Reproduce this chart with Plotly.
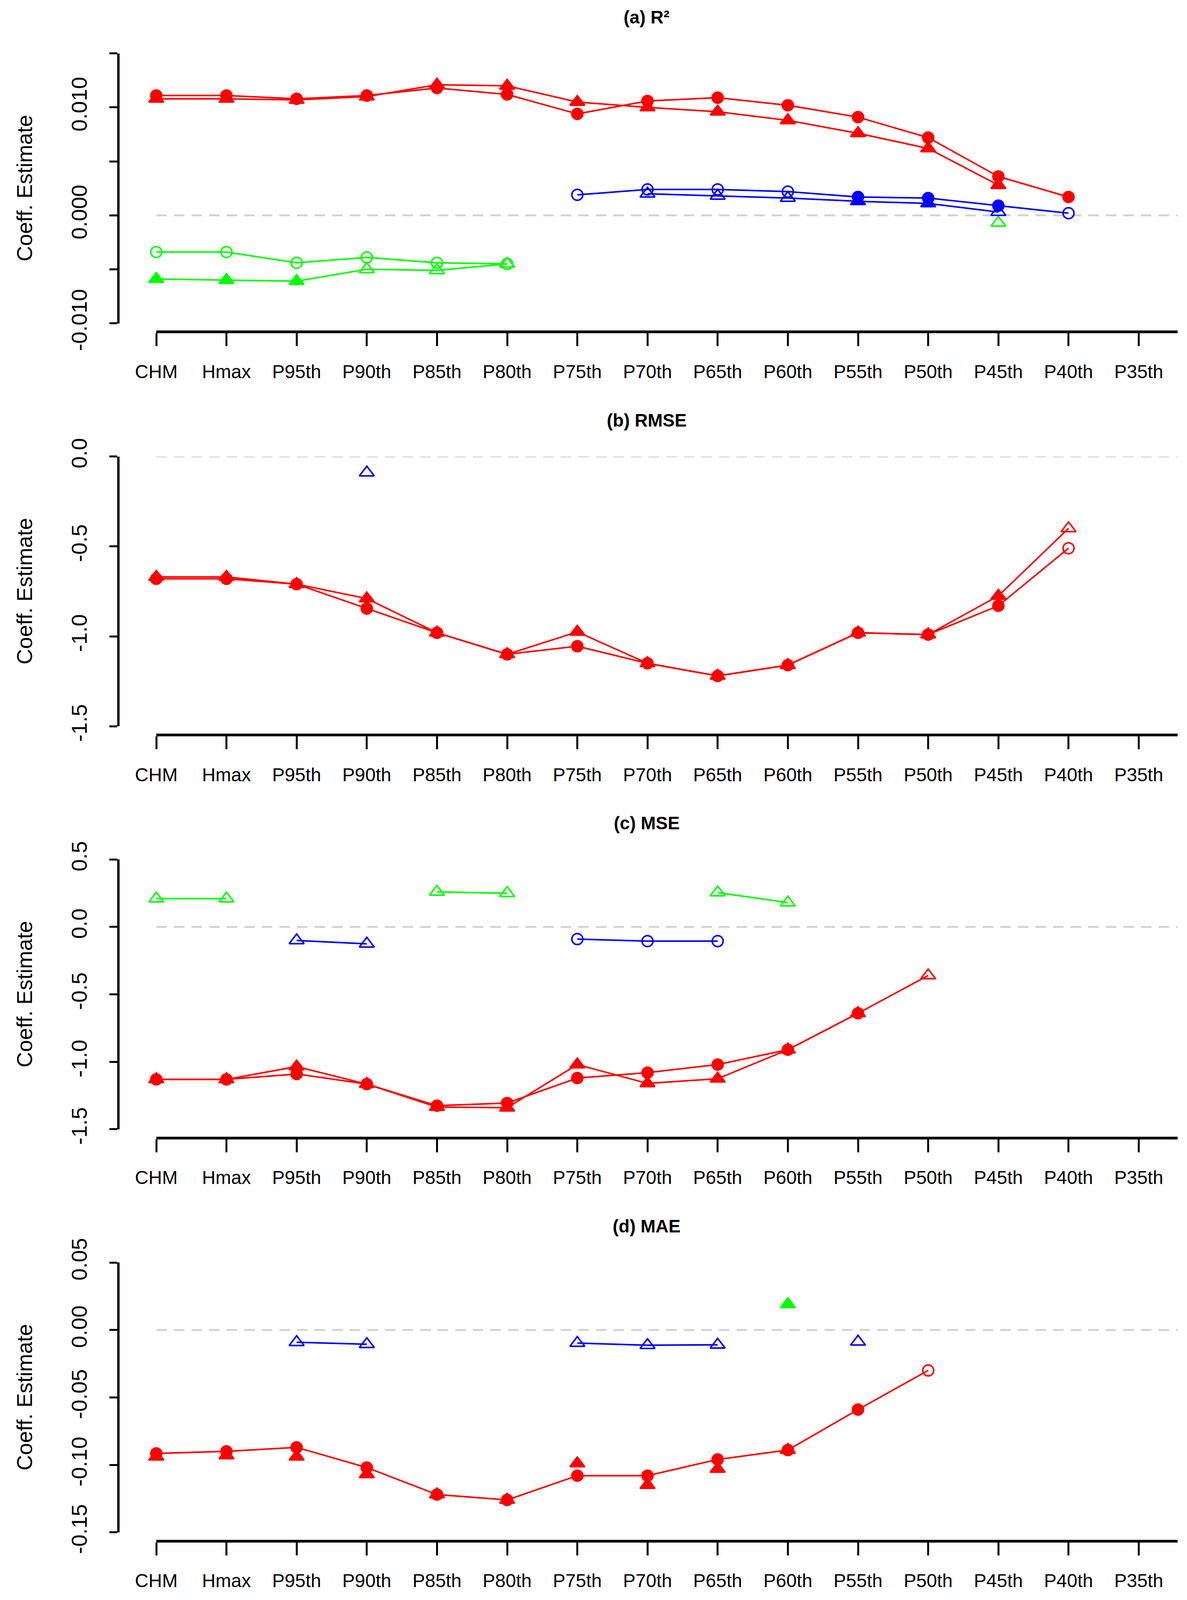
import plotly.graph_objects as go

W = 3038
REF_H = 4317          # height of the reference frame the layout was measured in
VIEW_H = 4090         # visible height of the photographed page
FY = VIEW_H / REF_H
N = None

categories = ["CHM", "Hmax", "P95th", "P90th", "P85th", "P80th", "P75th", "P70th",
              "P65th", "P60th", "P55th", "P50th", "P45th", "P40th", "P35th"]

# ---------------- (a) R² ----------------
r2_red_circ = [0.0111, 0.0111, 0.0108, 0.0111, 0.0118, 0.0112, 0.0094, 0.0106, 0.0109,
               0.0102, 0.0091, 0.0072, 0.0036, 0.0017, N]
r2_red_circ_fill = [1, 1, 1, 1, 1, 1, 1, 1, 1, 1, 1, 1, 1, 1, 1]
r2_red_tri = [0.0108, 0.0108, 0.0107, 0.0110, 0.0121, 0.0120, 0.0105, 0.0100, 0.0096,
              0.0088, 0.0076, 0.0062, 0.0028, N, N]
r2_red_tri_fill = [1, 1, 1, 1, 1, 1, 1, 1, 1, 1, 1, 1, 1, 1, 1]
r2_blue_circ = [N, N, N, N, N, N, 0.0019, 0.0024, 0.0024, 0.0022, 0.0017, 0.0016,
                0.0009, 0.0002, N]
r2_blue_circ_fill = [0, 0, 0, 0, 0, 0, 0, 0, 0, 0, 1, 1, 1, 0, 0]
r2_blue_tri = [N, N, N, N, N, N, N, 0.0020, 0.0018, 0.0016, 0.0013, 0.0011, 0.0003, N, N]
r2_blue_tri_fill = [0, 0, 0, 0, 0, 0, 0, 0, 0, 0, 1, 1, 0, 0, 0]
r2_green_circ = [-0.0034, -0.0034, -0.0044, -0.0039, -0.0044, -0.0045, N, N, N, N, N, N, N, N, N]
r2_green_circ_fill = [0] * 15
r2_green_tri = [-0.0059, -0.0060, -0.0061, -0.0050, -0.0051, -0.0045, N, N, N, N, N, N,
                -0.0007, N, N]
r2_green_tri_fill = [1, 1, 1, 0, 0, 0, 0, 0, 0, 0, 0, 0, 0, 0, 0]
r2_ticks = [0.015, 0.010, 0.005, 0.000, -0.005, -0.010]
r2_ticktext = ["", "0.010", "", "0.000", "", "-0.010"]

# ---------------- (b) RMSE ----------------
rmse_red_circ = [-0.68, -0.68, -0.71, -0.845, -0.98, -1.10, -1.055, -1.15, -1.22, -1.16,
                 -0.98, -0.99, -0.83, -0.51, N]
rmse_red_circ_fill = [1, 1, 1, 1, 1, 1, 1, 1, 1, 1, 1, 1, 1, 0, 0]
rmse_red_tri = [-0.67, -0.67, -0.71, -0.79, -0.98, -1.10, -0.975, -1.15, -1.22, -1.16,
                -0.98, -0.99, -0.775, -0.40, N]
rmse_red_tri_fill = [1, 1, 1, 1, 1, 1, 1, 1, 1, 1, 1, 1, 1, 0, 0]
rmse_blue_tri = [N, N, N, -0.09, N, N, N, N, N, N, N, N, N, N, N]
rmse_blue_tri_fill = [0] * 15
rmse_ticks = [0.0, -0.5, -1.0, -1.5]
rmse_ticktext = ["0.0", "-0.5", "-1.0", "-1.5"]

# ---------------- (c) MSE ----------------
mse_red_circ = [-1.13, -1.13, -1.09, -1.165, -1.325, -1.305, -1.12, -1.08, -1.02, -0.91,
                -0.64, N, N, N, N]
mse_red_circ_fill = [1] * 15
mse_red_tri = [-1.13, -1.13, -1.035, -1.165, -1.335, -1.34, -1.02, -1.16, -1.125, -0.91,
               -0.64, -0.36, N, N, N]
mse_red_tri_fill = [1, 1, 1, 1, 1, 1, 1, 1, 1, 1, 1, 0, 0, 0, 0]
mse_green_tri = [0.21, 0.21, N, N, 0.26, 0.25, N, N, 0.255, 0.18, N, N, N, N, N]
mse_green_tri_fill = [0] * 15
mse_blue_tri = [N, N, -0.10, -0.125, N, N, N, N, N, N, N, N, N, N, N]
mse_blue_tri_fill = [0] * 15
mse_blue_circ = [N, N, N, N, N, N, -0.09, -0.105, -0.105, N, N, N, N, N, N]
mse_blue_circ_fill = [0] * 15
mse_ticks = [0.5, 0.0, -0.5, -1.0, -1.5]
mse_ticktext = ["0.5", "0.0", "-0.5", "-1.0", "-1.5"]

# ---------------- (d) MAE ----------------
mae_red_circ = [-0.0915, -0.090, -0.087, -0.102, -0.122, -0.126, -0.108, -0.108, -0.096,
                -0.089, -0.059, -0.030, N, N, N]
mae_red_circ_fill = [1, 1, 1, 1, 1, 1, 1, 1, 1, 1, 1, 0, 0, 0, 0]
mae_red_tri = [-0.094, -0.093, -0.094, -0.107, -0.122, -0.126, -0.099, -0.115, -0.103,
               -0.089, N, N, N, N, N]
mae_red_tri_fill = [1] * 15
mae_blue_tri = [N, N, -0.0091, -0.0106, N, N, -0.0097, -0.0113, -0.011, N, -0.0088, N, N, N, N]
mae_blue_tri_fill = [0] * 15
mae_green_tri = [N, N, N, N, N, N, N, N, N, 0.019, N, N, N, N, N]
mae_green_tri_fill = [1] * 15
mae_ticks = [0.05, 0.00, -0.05, -0.10, -0.15]
mae_ticktext = ["0.05", "0.00", "-0.05", "-0.10", "-0.15"]

panel_titles = ["<b>(a) R²</b>", "<b>(b) RMSE</b>", "<b>(c) MSE</b>", "<b>(d) MAE</b>"]
y_title = "Coeff. Estimate"

RED, BLUE, GREEN = "#FF0000", "#0000FF", "#00FF00"

panels = [
    ([(r2_green_circ, r2_green_circ_fill, GREEN, "circle", "lines+markers"),
      (r2_green_tri, r2_green_tri_fill, GREEN, "triangle-up", "lines+markers"),
      (r2_blue_circ, r2_blue_circ_fill, BLUE, "circle", "lines+markers"),
      (r2_blue_tri, r2_blue_tri_fill, BLUE, "triangle-up", "lines+markers"),
      (r2_red_circ, r2_red_circ_fill, RED, "circle", "lines+markers"),
      (r2_red_tri, r2_red_tri_fill, RED, "triangle-up", "lines+markers")],
     r2_ticks, r2_ticktext),
    ([(rmse_blue_tri, rmse_blue_tri_fill, BLUE, "triangle-up", "lines+markers"),
      (rmse_red_circ, rmse_red_circ_fill, RED, "circle", "lines+markers"),
      (rmse_red_tri, rmse_red_tri_fill, RED, "triangle-up", "lines+markers")],
     rmse_ticks, rmse_ticktext),
    ([(mse_green_tri, mse_green_tri_fill, GREEN, "triangle-up", "lines+markers"),
      (mse_blue_tri, mse_blue_tri_fill, BLUE, "triangle-up", "lines+markers"),
      (mse_blue_circ, mse_blue_circ_fill, BLUE, "circle", "lines+markers"),
      (mse_red_circ, mse_red_circ_fill, RED, "circle", "lines+markers"),
      (mse_red_tri, mse_red_tri_fill, RED, "triangle-up", "lines+markers")],
     mse_ticks, mse_ticktext),
    ([(mae_green_tri, mae_green_tri_fill, GREEN, "triangle-up", "lines+markers"),
      (mae_blue_tri, mae_blue_tri_fill, BLUE, "triangle-up", "lines+markers"),
      (mae_red_circ, mae_red_circ_fill, RED, "circle", "lines+markers"),
      (mae_red_tri, mae_red_tri_fill, RED, "triangle-up", "markers")],
     mae_ticks, mae_ticktext),
]

FONT = "Liberation Sans, Arial, sans-serif"
PANEL_STEP = 1089
X_LEFT, X_RIGHT = 392, 3006
CAT_STEP = 179.6
Y_AXIS_X = 295


def py(px):
    """paper y fraction for a vertical position measured in the reference frame"""
    return 1 - (px * FY) / VIEW_H


fig = go.Figure()
x_idx = list(range(len(categories)))
layout = dict(
    width=W, height=VIEW_H, margin=dict(l=0, r=0, t=0, b=0, pad=0, autoexpand=False),
    paper_bgcolor="white", plot_bgcolor="white", showlegend=False,
    font=dict(family=FONT, color="black"),
)
annotations = []
shapes = []

for k, (series, ticks, ticktext) in enumerate(panels):
    sfx = "" if k == 0 else str(k + 1)
    ytop = 136 + PANEL_STEP * k
    ybot = 865 + PANEL_STEP * k
    xline = ybot + 23
    for vals, fills, color, shape, mode in series:
        symbols = [shape if f else shape + "-open" for f in fills]
        size = 28 if shape == "circle" else 33
        fig.add_trace(go.Scatter(
            x=x_idx, y=vals, mode=mode, xaxis="x" + sfx, yaxis="y" + sfx,
            connectgaps=False, cliponaxis=False,
            line=dict(color=color, width=4),
            marker=dict(symbol=symbols, size=size, color=color,
                        line=dict(color=color, width=4)),
        ))
    x_range_max = (X_RIGHT - X_LEFT) / CAT_STEP
    layout["xaxis" + sfx] = dict(
        domain=[X_LEFT / W, X_RIGHT / W], range=[0, x_range_max],
        anchor="free", position=py(xline), automargin=False,
        tickmode="array", tickvals=x_idx, ticktext=categories,
        ticks="outside", ticklen=33, tickwidth=5, tickcolor="black",
        showline=True, linewidth=7, linecolor="black",
        showgrid=False, zeroline=False, ticklabelstandoff=24,
        tickfont=dict(size=48, family=FONT, color="black"),
    )
    layout["yaxis" + sfx] = dict(
        domain=[py(ybot), py(ytop)], range=[min(ticks), max(ticks)],
        anchor="free", position=Y_AXIS_X / W, automargin=False,
        tickmode="array", tickvals=ticks, ticktext=ticktext,
        ticks="outside", ticklen=20, tickwidth=5, tickcolor="black",
        showline=True, linewidth=6, linecolor="black",
        showgrid=False, zeroline=False, tickangle=-90, ticklabelstandoff=36,
        tickfont=dict(size=56, family=FONT, color="black"),
    )
    shapes.append(dict(type="line", xref="x" + sfx + " domain", x0=0, x1=1,
                       yref="y" + sfx, y0=0, y1=0, layer="below",
                       line=dict(color="#D3D3D3", width=5, dash="27px,18px")))
    annotations.append(dict(text=panel_titles[k], xref="paper", yref="paper",
                            x=1647 / W, y=py(38 + PANEL_STEP * k),
                            xanchor="center", yanchor="middle", showarrow=False,
                            font=dict(size=46, family=FONT, color="black")))
    annotations.append(dict(text=y_title, xref="paper", yref="paper",
                            x=55 / W, y=py((ytop + ybot) / 2), textangle=-90,
                            xanchor="center", yanchor="middle", showarrow=False,
                            font=dict(size=55, family=FONT, color="black")))

layout["annotations"] = annotations
layout["shapes"] = shapes
fig.update_layout(**layout)
fig.write_html("out.html")
